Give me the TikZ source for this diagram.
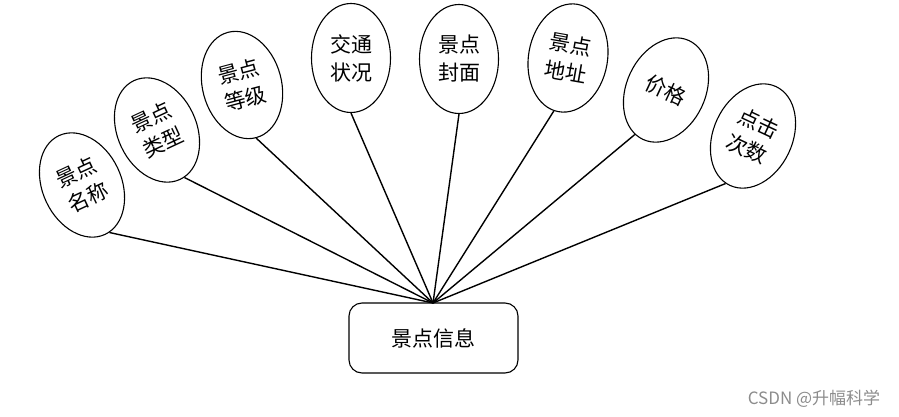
\documentclass[tikz,border=0pt]{standalone}
\usepackage{fontspec}
\newfontfamily\cjk{Noto Sans CJK SC}
\usetikzlibrary{shapes.geometric, positioning}

\begin{document}
\begin{tikzpicture}[
    x=1pt, y=-1pt,
    attr/.style={ellipse, draw=black, line width=1.1pt, minimum width=79pt, minimum height=109pt, inner sep=0pt, align=center, font=\cjk\fontsize{21}{28}\selectfont},
    entity/.style={rectangle, draw=black, line width=1.1pt, rounded corners=13pt, minimum width=169pt, minimum height=70pt, font=\cjk\fontsize{21}{24}\selectfont},
    link/.style={draw=black, line width=1.4pt}
]
    \useasboundingbox (0,0) rectangle (899,417);

    \node [entity] (info) at (433.5,338) {景点信息};
    \coordinate (hub) at (433,303);

    \node [attr, rotate=25] (name) at (82,185) {景点\\名称};
    \node [attr, rotate=25] (type) at (157,130) {景点\\类型};
    \node [attr, rotate=15] (grade) at (242,85) {景点\\等级};
    \node [attr] (traffic) at (351,58) {交通\\状况};
    \node [attr] (cover) at (459,59) {景点\\封面};
    \node [attr, rotate=-10] (address) at (568,58) {景点\\地址};
    \node [attr, rotate=-25] (price) at (666,90) {价格};
    \node [attr, rotate=-25] (clicks) at (753,136) {点击\\次数};

    \draw [link] (name.-85) -- (hub);
    \draw [link] (type.-85) -- (hub);
    \draw [link] (grade.south) -- (hub);
    \draw [link] (traffic.south) -- (hub);
    \draw [link] (cover.south) -- (hub);
    \draw [link] (address.-95) -- (hub);
    \draw [link] (price.-100) -- (hub);
    \draw [link] (clicks.-95) -- (hub);

    \node [text=black!45, font=\cjk\fontsize{17}{17}\selectfont] (mark) at (814,399) {CSDN @升幅科学};
\end{tikzpicture}
\end{document}
